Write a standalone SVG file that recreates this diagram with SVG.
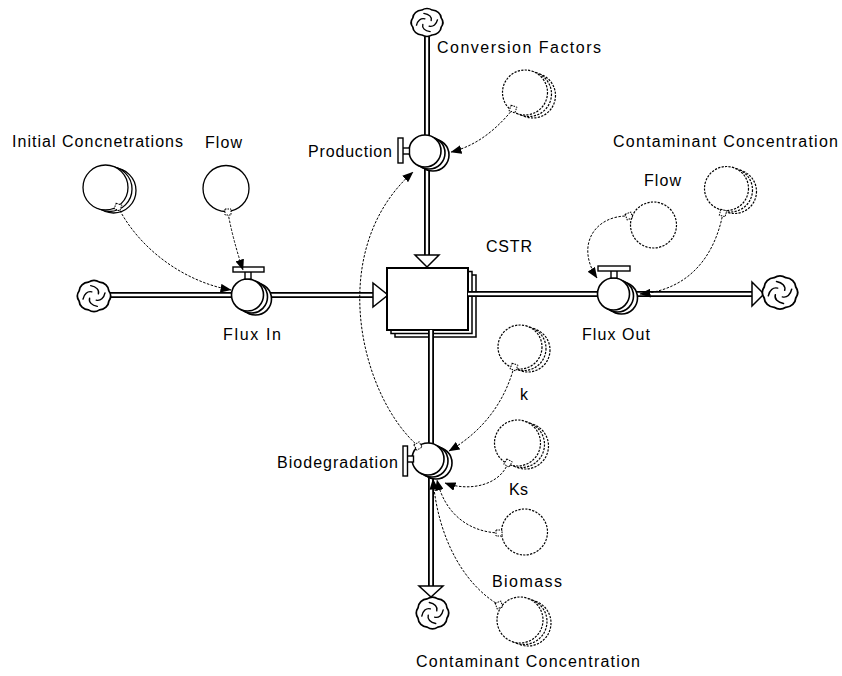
<svg xmlns="http://www.w3.org/2000/svg" width="842" height="676" viewBox="0 0 842 676">
  <style>
    text { font-family: "Liberation Sans", Arial, sans-serif; font-size: 16px; fill: #000; }
    .pipe-o { fill: none; stroke: #000; stroke-width: 6; }
    .pipe-i { fill: none; stroke: #fff; stroke-width: 2.4; }
    .tip { fill: #fff; stroke: #000; stroke-width: 1.5; stroke-linejoin: miter; }
    .conv { fill: #fff; stroke: #000; stroke-width: 1.3; }
    .ghost { fill: #fff; stroke: #000; stroke-width: 1.2; stroke-dasharray: 2.2 1.3; }
    .valve { fill: #fff; stroke: #000; stroke-width: 1.6; }
    .bar { fill: #fff; stroke: #000; stroke-width: 1.4; }
    .link { fill: none; stroke: #000; stroke-width: 1; stroke-dasharray: 2.5 1.5; marker-end: url(#ah); }
    .handle { fill: #fff; stroke: #000; stroke-width: 1; stroke-dasharray: 1.5 1; }
    .cloud { fill: #fff; stroke: #000; stroke-width: 1.6; }
    .swirl { fill: none; stroke: #000; stroke-width: 1.3; stroke-linecap: round; }
    .stock { fill: #fff; stroke: #000; stroke-width: 2; }
    .stock-b { fill: #fff; stroke: #000; stroke-width: 1.5; }
  </style>
  <defs>
    <marker id="ah" viewBox="0 0 10 8" refX="9.5" refY="4" markerWidth="11" markerHeight="8.8" markerUnits="userSpaceOnUse" orient="auto">
      <path d="M0,0 L10,4 L0,8 Z" fill="#000"/>
    </marker>
    <!-- source / sink cloud, centred on the origin -->
    <g id="cloud">
      <path class="cloud" d="M-5,-13.5 A9 9 0 0 1 5,-13.5 A9 9 0 0 1 13.5,-5 A9 9 0 0 1 13.5,5 A9 9 0 0 1 5,13.5 A9 9 0 0 1 -5,13.5 A9 9 0 0 1 -13.5,5 A9 9 0 0 1 -13.5,-5 A9 9 0 0 1 -5,-13.5 Z"/>
      <path class="swirl" d="M-3,-10 C2,-9 5,-6 4,-2"/>
      <path class="swirl" d="M-3,-10 C2,-9 5,-6 4,-2" transform="rotate(90)"/>
      <path class="swirl" d="M-3,-10 C2,-9 5,-6 4,-2" transform="rotate(180)"/>
      <path class="swirl" d="M-3,-10 C2,-9 5,-6 4,-2" transform="rotate(270)"/>
    </g>
  </defs>

  <rect width="842" height="676" fill="#fff"/>

  <!-- material flow pipes -->
  <g id="flows">
    <path class="pipe-o" d="M110,295 H374"/>
    <path class="pipe-i" d="M110,295 H374"/>
    <polygon class="tip" points="373,283 373,307 388,295"/>

    <path class="pipe-o" d="M427,35 V256"/>
    <path class="pipe-i" d="M427,35 V256"/>
    <polygon class="tip" points="415,255 439,255 427,267"/>

    <path class="pipe-o" d="M470,294 H753"/>
    <path class="pipe-i" d="M470,294 H753"/>
    <polygon class="tip" points="752,282 752,306 764,294"/>

    <path class="pipe-o" d="M431,332 V587"/>
    <path class="pipe-i" d="M431,332 V587"/>
    <polygon class="tip" points="419,586 443,586 431,597"/>
  </g>

  <!-- clouds -->
  <g id="source-left"><use href="#cloud" transform="translate(94,296) scale(1.1,1.03)"/></g>
  <g id="source-top"><use href="#cloud" transform="translate(427,22.5) scale(1.05,0.92)"/></g>
  <g id="sink-right"><use href="#cloud" transform="translate(780,292.5) scale(1.17,1.1)"/></g>
  <g id="sink-bottom"><use href="#cloud" transform="translate(432.5,613) scale(1.07,1.05)"/></g>

  <!-- stock -->
  <g id="cstr">
    <rect class="stock-b" x="395" y="275" width="81" height="62"/>
    <rect class="stock-b" x="391" y="271.5" width="81" height="62"/>
    <rect class="stock" x="387" y="268" width="81" height="62"/>
    <path class="pipe-o" d="M468,294 H478"/>
    <path class="pipe-i" d="M468,294 H478"/>
    <path class="pipe-o" d="M431,330 V338"/>
    <path class="pipe-i" d="M431,330 V338"/>
    <text x="486" y="252" textLength="46">CSTR</text>
  </g>

  <!-- flux in -->
  <g id="flux-in">
    <circle class="valve" cx="255.5" cy="299" r="16"/>
    <circle class="valve" cx="251.5" cy="297" r="16"/>
    <circle class="valve" cx="247.5" cy="295" r="16"/>
    <rect class="bar" x="245" y="271.5" width="6" height="7.5"/>
    <rect class="bar" x="233" y="267" width="31" height="5"/>
    <text x="223" y="340" textLength="58">Flux In</text>
  </g>

  <!-- flux out -->
  <g id="flux-out">
    <circle class="valve" cx="621.5" cy="298" r="16"/>
    <circle class="valve" cx="617.5" cy="296" r="16"/>
    <circle class="valve" cx="613.5" cy="294" r="16"/>
    <rect class="bar" x="611" y="270.5" width="6" height="7.5"/>
    <rect class="bar" x="598" y="266" width="32" height="5"/>
    <text x="582" y="340" textLength="68">Flux Out</text>
  </g>

  <!-- production -->
  <g id="production">
    <circle class="valve" cx="433" cy="155" r="16"/>
    <circle class="valve" cx="429" cy="153" r="16"/>
    <circle class="valve" cx="425" cy="151" r="16"/>
    <rect class="bar" x="402.5" y="148" width="7" height="6"/>
    <rect class="bar" x="398" y="138" width="5" height="25"/>
    <text x="308" y="157" textLength="84">Production</text>
  </g>

  <!-- biodegradation -->
  <g id="biodegradation">
    <circle class="valve" cx="436" cy="463" r="16"/>
    <circle class="valve" cx="432" cy="461" r="16"/>
    <circle class="valve" cx="428" cy="459" r="16"/>
    <rect class="bar" x="407" y="456" width="6.5" height="6"/>
    <rect class="bar" x="403" y="446" width="4.5" height="30"/>
    <text x="277" y="468" textLength="121">Biodegradation</text>
  </g>

  <!-- auxiliaries -->
  <g id="initial-concentrations">
    <circle class="conv" cx="113.5" cy="190.5" r="22.5"/>
    <circle class="conv" cx="109.5" cy="189" r="22.5"/>
    <circle class="conv" cx="105.5" cy="187.5" r="22.5"/>
    <text x="12" y="147" textLength="171">Initial Concnetrations</text>
  </g>

  <g id="flow-in">
    <circle class="conv" cx="226" cy="188.5" r="23"/>
    <text x="205" y="148" textLength="37">Flow</text>
  </g>

  <g id="conversion-factors">
    <circle class="ghost" cx="533" cy="95.5" r="22.5"/>
    <circle class="ghost" cx="529" cy="94" r="22.5"/>
    <circle class="ghost" cx="525" cy="92.5" r="22.5"/>
    <text x="437" y="53" textLength="164">Conversion Factors</text>
  </g>

  <g id="flow-out">
    <circle class="ghost" cx="653.5" cy="225" r="23"/>
    <text x="644" y="186" textLength="37">Flow</text>
  </g>

  <g id="contaminant-out">
    <circle class="ghost" cx="734.5" cy="191.5" r="22"/>
    <circle class="ghost" cx="730.5" cy="190" r="22"/>
    <circle class="ghost" cx="726.5" cy="188.5" r="22"/>
    <text x="613" y="147" textLength="225">Contaminant Concentration</text>
  </g>

  <g id="k">
    <circle class="ghost" cx="528" cy="350" r="22"/>
    <circle class="ghost" cx="524" cy="348.5" r="22"/>
    <circle class="ghost" cx="520" cy="347" r="22"/>
    <text x="520" y="400" textLength="8">k</text>
  </g>

  <g id="ks">
    <circle class="ghost" cx="525.5" cy="446" r="23"/>
    <circle class="ghost" cx="521.5" cy="444.5" r="23"/>
    <circle class="ghost" cx="517.5" cy="443" r="23"/>
    <text x="509" y="495" textLength="19">Ks</text>
  </g>

  <g id="biomass">
    <circle class="ghost" cx="524.5" cy="532" r="23"/>
    <text x="492" y="587" textLength="70">Biomass</text>
  </g>

  <g id="contaminant-bio">
    <circle class="ghost" cx="528" cy="623" r="23"/>
    <circle class="ghost" cx="524" cy="621.5" r="23"/>
    <circle class="ghost" cx="520" cy="620" r="23"/>
    <text x="416" y="667" textLength="224">Contaminant Concentration</text>
  </g>

  <!-- information links -->
  <g id="connectors">
    <path class="link" d="M118,207 C140,250 185,282 231,290"/>
    <path class="link" d="M228,213 Q233,240 243,270"/>
    <path class="link" d="M513,109 C500,125 480,145 451,152"/>
    <path class="link" d="M629,216 C595,215 575,245 597,278"/>
    <path class="link" d="M723,213 C715,255 690,290 640,294"/>
    <path class="link" d="M418,446 C360,395 325,250 413,172"/>
    <path class="link" d="M514,367 C505,400 485,430 449,451"/>
    <path class="link" d="M508,463 C500,485 470,492 445,483"/>
    <path class="link" d="M499,533 C470,532 445,515 437,480"/>
    <path class="link" d="M499,605 C465,585 438,540 433,479"/>

    <rect class="handle" x="115" y="204" width="6" height="6" transform="rotate(20 118 207)"/>
    <rect class="handle" x="225" y="209" width="6" height="6"/>
    <rect class="handle" x="510" y="106" width="6" height="6" transform="rotate(20 513 109)"/>
    <rect class="handle" x="626" y="213" width="6" height="6" transform="rotate(-20 629 216)"/>
    <rect class="handle" x="720" y="210" width="6" height="6" transform="rotate(15 723 213)"/>
    <rect class="handle" x="415" y="443" width="6" height="6" transform="rotate(-30 418 446)"/>
    <rect class="handle" x="511" y="364" width="6" height="6" transform="rotate(20 514 367)"/>
    <rect class="handle" x="505" y="460" width="6" height="6" transform="rotate(30 508 463)"/>
    <rect class="handle" x="496" y="530" width="6" height="6"/>
    <rect class="handle" x="496" y="602" width="6" height="6" transform="rotate(-20 499 605)"/>
  </g>
</svg>
